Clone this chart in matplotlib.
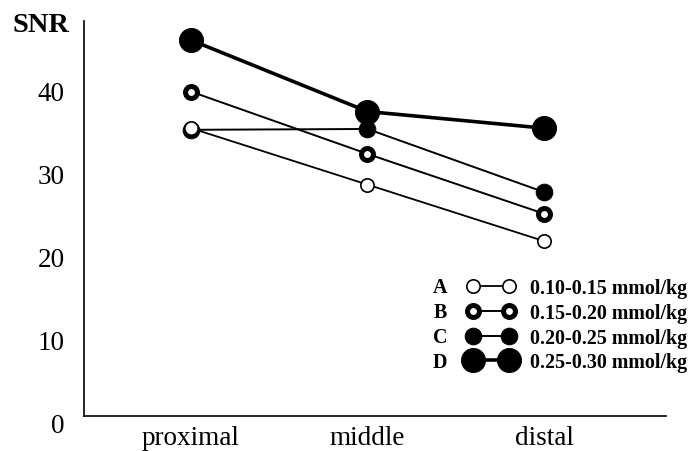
import matplotlib
matplotlib.use('Agg')
import matplotlib.pyplot as plt
import numpy as np

plt.rcParams['font.family'] = ['Liberation Serif', 'DejaVu Serif']

# ---- data ----
categories = ['proximal', 'middle', 'distal']
groups = ['A', 'B', 'C', 'D']
dose_labels = ['0.10-0.15 mmol/kg', '0.15-0.20 mmol/kg',
               '0.20-0.25 mmol/kg', '0.25-0.30 mmol/kg']
snr_A = [35.5, 28.7, 21.9]
snr_B = [39.9, 32.4, 25.2]
snr_C = [35.3, 35.4, 27.8]
snr_D = [46.1, 37.5, 35.5]
y_ticks = [0, 10, 20, 30, 40]

series = {'A': snr_A, 'B': snr_B, 'C': snr_C, 'D': snr_D}
styles = {
    'A': dict(marker='o', ms=9.6, mew=1.2, mfc='white', mec='black', lw=1.3),
    'B': dict(marker='o', ms=8.6, mew=3.6, mfc='white', mec='black', lw=1.4),
    'C': dict(marker='o', ms=12.0, mew=0.7, mfc='black', mec='black', lw=1.4),
    'D': dict(marker='o', ms=17.3, mew=0.7, mfc='black', mec='black', lw=2.6),
}

W, H = 696, 452
fig = plt.figure(figsize=(W / 100, H / 100), dpi=100)
ax = fig.add_axes([84 / W, 28 / H, 582 / W, 402 / H])

x = np.arange(len(categories))
handles = {}
for g in ['C', 'D', 'B', 'A']:
    ln, = ax.plot(x, series[g], color='black', zorder=3, clip_on=False, **styles[g])
    handles[g] = ln

ymax = 48.4
axis_base = 0.84
ax.set_ylim(0, ymax)
ax.set_xlim(-0.606, 2.691)
ax.spines['top'].set_visible(False)
ax.spines['right'].set_visible(False)
ax.spines['bottom'].set_position(('data', axis_base))
ax.spines['left'].set_bounds(axis_base, ymax)
for s in ['left', 'bottom']:
    ax.spines[s].set_linewidth(1.2)

ax.set_xticks(x)
ax.set_xticklabels(categories)
ax.set_yticks(y_ticks)
ax.tick_params(axis='both', length=0, labelsize=19.5)
ax.tick_params(axis='y', pad=14)
ax.tick_params(axis='x', pad=6.5)

fig.text(41 / W, 1 - 26 / H, 'SNR', ha='center', va='center',
         fontsize=20.5, fontweight='bold')

leg = ax.legend([handles[g] for g in groups], dose_labels, numpoints=2,
                frameon=False, loc='upper left',
                bbox_to_anchor=(467 / W, 1 - 279 / H),
                bbox_transform=fig.transFigure, borderpad=0, borderaxespad=0,
                handlelength=2.4, handletextpad=0.75, labelspacing=0.24,
                prop={'family': 'Liberation Serif', 'weight': 'bold', 'size': 14.4})

for g, yy in zip(groups, [288, 313, 338, 363]):
    fig.text(440 / W, 1 - yy / H, g, ha='center', va='center',
             fontsize=14.4, fontweight='bold')

fig.savefig('out.png', dpi=100)
